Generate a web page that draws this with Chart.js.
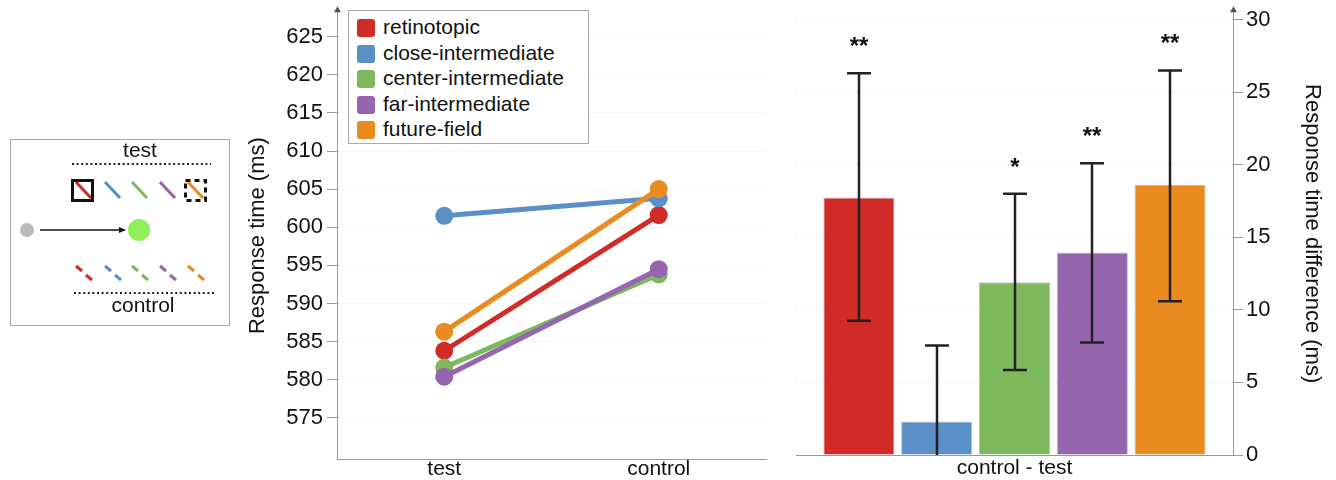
<!DOCTYPE html>
<html>
<head>
<meta charset="utf-8">
<script src="https://cdn.jsdelivr.net/npm/chart.js@4.4.0/dist/chart.umd.min.js"></script>
<style>
  body { margin: 0; background: #fff; width: 1336px; height: 480px; overflow: hidden; position: relative;
         font-family: "Liberation Sans", Arial, sans-serif; }
  canvas { position: absolute; top: 0; }
  #sketch { left: 0; }
  #lineChart { left: 230px; }
  #barChart { left: 775px; }
  #legend { position: absolute; left: 348px; top: 10px; width: 239px; height: 132px;
            border: 1px solid #aaa; background: #fff; }
  .item { position: absolute; left: 8px; height: 20px; font-size: 21px; line-height: 20px; color: #111; }
  .sw { position: absolute; left: 0; top: 1px; width: 18px; height: 18px; border-radius: 3px; }
  .txt { position: absolute; left: 26px; top: -1px; white-space: nowrap; }
</style>
</head>
<body>
<canvas id="sketch" width="240" height="480"></canvas>
<canvas id="lineChart" width="545" height="480"></canvas>
<canvas id="barChart" width="561" height="480"></canvas>
<div id="legend"></div>
<script>
// data
const categories = ['retinotopic', 'close-intermediate', 'center-intermediate', 'far-intermediate', 'future-field'];
const colors = ['#d02b27', '#5b8fc8', '#7db85d', '#9566ae', '#ea8b20'];
const conditions = ['test', 'control'];
const testRT = [583.8, 601.5, 581.6, 580.4, 586.3];
const controlRT = [601.6, 603.8, 593.8, 594.5, 605.0];
const rtTicks = [575, 580, 585, 590, 595, 600, 605, 610, 615, 620, 625];

const barLabel = 'control - test';
const diff = [17.75, 2.3, 11.9, 13.95, 18.6];
const errLow = [9.25, -3.0, 5.85, 7.75, 10.6];
const errHigh = [26.3, 7.55, 18.0, 20.1, 26.5];
const stars = ['**', '', '*', '**', '**'];
const diffTicks = [0, 5, 10, 15, 20, 25, 30];

const FONT = '"Liberation Sans", Arial, sans-serif';
Chart.defaults.font.family = FONT;
Chart.defaults.color = '#111';

// --- schematic on the left (plain canvas drawing) ---
const sk = document.getElementById('sketch').getContext('2d');
sk.strokeStyle = '#aaa'; sk.lineWidth = 1;
sk.strokeRect(10.5, 139.5, 219, 186);
sk.fillStyle = '#111'; sk.font = '21px ' + FONT; sk.textAlign = 'center';
sk.fillText('test', 140, 157);
sk.fillText('control', 143, 312);
function dotted(x0, x1, y) {
  sk.save(); sk.strokeStyle = '#222'; sk.lineWidth = 2; sk.setLineDash([2, 2.6]);
  sk.beginPath(); sk.moveTo(x0, y); sk.lineTo(x1, y); sk.stroke(); sk.restore();
}
dotted(72, 211, 164);
dotted(74, 214, 293);
const sx = [76, 105, 132, 160, 188];
sk.lineCap = 'butt';
sx.forEach((x, i) => {
  sk.strokeStyle = colors[i]; sk.lineWidth = 3;
  sk.beginPath(); sk.moveTo(x, 182); sk.lineTo(x + 15, 198); sk.stroke();
  sk.beginPath(); sk.moveTo(x, 266); sk.lineTo(x + 6, 271); sk.stroke();
  sk.beginPath(); sk.moveTo(x + 10, 275); sk.lineTo(x + 16, 280); sk.stroke();
});
sk.strokeStyle = '#111'; sk.lineWidth = 3;
sk.strokeRect(72.5, 180.5, 20, 20);
sk.save(); sk.setLineDash([5, 4]); sk.strokeRect(185.5, 180.5, 20, 20); sk.restore();
sk.fillStyle = '#bbb'; sk.beginPath(); sk.arc(27, 230, 7, 0, Math.PI * 2); sk.fill();
sk.strokeStyle = '#111'; sk.lineWidth = 1.5;
sk.beginPath(); sk.moveTo(40, 230); sk.lineTo(122, 230); sk.stroke();
sk.fillStyle = '#111'; sk.beginPath(); sk.moveTo(126, 230); sk.lineTo(119, 227); sk.lineTo(119, 233); sk.fill();
sk.fillStyle = '#8ff05a'; sk.beginPath(); sk.arc(139, 230, 11, 0, Math.PI * 2); sk.fill();

// --- legend box ---
const legend = document.getElementById('legend');
categories.forEach((c, i) => {
  const d = document.createElement('div');
  d.className = 'item'; d.style.top = (7 + i * 25.5) + 'px';
  d.innerHTML = '<span class="sw" style="background:' + colors[i] + '"></span><span class="txt">' + c + '</span>';
  legend.appendChild(d);
});

// arrowhead on top of the value axis
const axisArrow = {
  id: 'axisArrow',
  afterDraw(chart, args, opts) {
    const ctx = chart.ctx;
    const x = opts.side === 'right' ? chart.chartArea.right : chart.chartArea.left;
    const y = chart.chartArea.top - 2;
    ctx.save();
    ctx.strokeStyle = '#777'; ctx.lineWidth = 1;
    ctx.beginPath(); ctx.moveTo(x + 0.5, chart.chartArea.top); ctx.lineTo(x + 0.5, y); ctx.stroke();
    ctx.fillStyle = '#555';
    ctx.beginPath(); ctx.moveTo(x + 0.5, y - 4); ctx.lineTo(x - 3, y + 2); ctx.lineTo(x + 4, y + 2); ctx.fill();
    ctx.restore();
  }
};

// --- line chart ---
new Chart(document.getElementById('lineChart'), {
  type: 'line',
  data: {
    labels: conditions,
    datasets: categories.map((c, i) => ({
      label: c,
      data: [testRT[i], controlRT[i]],
      borderColor: colors[i],
      backgroundColor: colors[i],
      borderWidth: 5,
      pointRadius: 9,
      pointHoverRadius: 9,
      pointBorderWidth: 0,
      order: categories.length - i
    }))
  },
  options: {
    responsive: false,
    animation: false,
    layout: { padding: { top: 9, left: 15, right: 7, bottom: 0 } },
    plugins: { legend: { display: false }, tooltip: { enabled: false }, axisArrow: { side: 'left' } },
    scales: {
      x: {
        offset: true,
        grid: { display: false, drawTicks: false },
        border: { color: '#999' },
        ticks: { font: { size: 21, lineHeight: 1 }, padding: 0 },
        afterFit(s) { s.height = 21; }
      },
      y: {
        min: 569.6,
        max: 628.2,
        afterBuildTicks(s) { s.ticks = rtTicks.map(v => ({ value: v })); },
        grid: { color: '#dedede', tickColor: '#999', tickLength: 10, tickBorderDash: [] },
        border: { color: '#999', dash: [1, 3] },
        ticks: { font: { size: 22, lineHeight: 0.75 }, padding: 4 },
        title: { display: true, text: 'Response time (ms)', font: { size: 22 }, padding: { top: 0, bottom: 4 } },
        afterFit(s) { s.width = 92; }
      }
    }
  },
  plugins: [axisArrow]
});

// error bars and significance stars
const errorBars = {
  id: 'errorBars',
  afterDatasetsDraw(chart) {
    const ctx = chart.ctx, y = chart.scales.y, area = chart.chartArea;
    chart.data.datasets.forEach((ds, i) => {
      const bar = chart.getDatasetMeta(i).data[0];
      const x = Math.round(bar.x);
      const top = y.getPixelForValue(errHigh[i]);
      const bot = y.getPixelForValue(errLow[i]);
      ctx.save();
      ctx.beginPath(); ctx.rect(area.left, area.top - 40, area.right - area.left, area.bottom - area.top + 40); ctx.clip();
      ctx.strokeStyle = '#222'; ctx.lineWidth = 2.5;
      ctx.beginPath();
      ctx.moveTo(x, top); ctx.lineTo(x, bot);
      ctx.moveTo(x - 12, top); ctx.lineTo(x + 12, top);
      ctx.moveTo(x - 12, bot); ctx.lineTo(x + 12, bot);
      ctx.stroke();
      ctx.restore();
      if (stars[i]) {
        ctx.save();
        ctx.fillStyle = '#111'; ctx.font = 'bold 24px ' + FONT;
        ctx.textAlign = 'center'; ctx.textBaseline = 'alphabetic';
        ctx.fillText(stars[i], x, top - 19);
        ctx.restore();
      }
    });
  }
};

// --- bar chart ---
new Chart(document.getElementById('barChart'), {
  type: 'bar',
  data: {
    labels: [barLabel],
    datasets: categories.map((c, i) => ({
      label: c,
      data: [diff[i]],
      backgroundColor: colors[i],
      borderColor: 'rgba(0,0,0,0.25)',
      borderWidth: 1,
      categoryPercentage: 0.89,
      barPercentage: 0.915
    }))
  },
  options: {
    responsive: false,
    animation: false,
    layout: { padding: { top: 11, left: 21, right: 11, bottom: 0 } },
    plugins: { legend: { display: false }, tooltip: { enabled: false }, axisArrow: { side: 'right' } },
    scales: {
      x: {
        grid: { display: false, drawTicks: false },
        border: { color: '#999' },
        ticks: { font: { size: 21, lineHeight: 1 }, padding: 3 },
        afterFit(s) { s.height = 25; }
      },
      y: {
        position: 'right',
        min: 0,
        max: 30.5,
        afterBuildTicks(s) { s.ticks = diffTicks.map(v => ({ value: v })); },
        grid: { color: '#dedede', tickColor: '#999', tickLength: 10, tickBorderDash: [] },
        border: { color: '#999', dash: [1, 3] },
        ticks: { font: { size: 22, lineHeight: 0.85 }, padding: 3 },
        title: { display: true, text: 'Response time difference (ms)', font: { size: 22 }, padding: { top: 0, bottom: 4 } },
        afterFit(s) { s.width = 92; }
      }
    }
  },
  plugins: [errorBars, axisArrow]
});
</script>
</body>
</html>
